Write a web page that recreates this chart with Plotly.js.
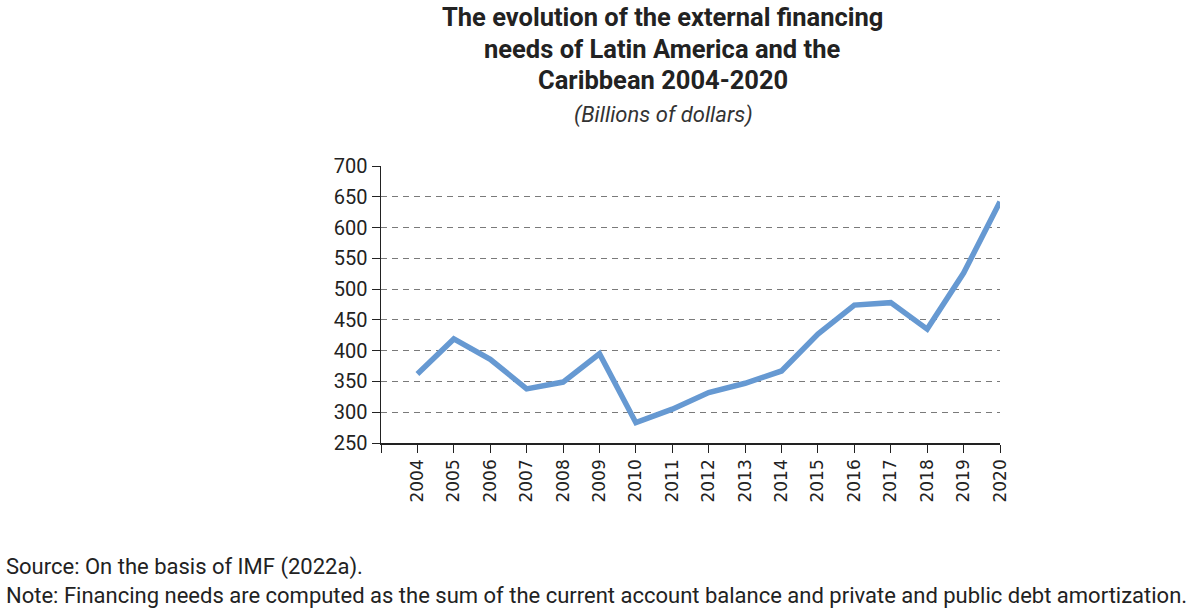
<!DOCTYPE html>
<html>
<head>
<meta charset="utf-8">
<script src="https://cdn.plot.ly/plotly-3.0.1.min.js"></script>
<style>
  html, body { margin: 0; padding: 0; background: #fff; }
  #chart { width: 1200px; height: 610px; }
</style>
</head>
<body>
<div id="chart"></div>
<script>
// External financing needs, Latin America and the Caribbean (billions of dollars)
const years = [2004, 2005, 2006, 2007, 2008, 2009, 2010, 2011, 2012, 2013, 2014, 2015, 2016, 2017, 2018, 2019, 2020];
const financingNeeds = [362, 419, 386, 338, 349, 395, 283, 305, 332, 347, 367, 427, 474, 478, 435, 526, 642];
const yTicks = [250, 300, 350, 400, 450, 500, 550, 600, 650, 700];

const titleLines = [
  "The evolution of the external financing",
  "needs of Latin America and the",
  "Caribbean 2004-2020"
];
const subtitle = "(Billions of dollars)";
const sourceText = "Source: On the basis of IMF (2022a).";
const noteText = "Note: Financing needs are computed as the sum of the current account balance and private and public debt amortization.";

const textFont = "Roboto, sans-serif";

// plot area in pixels
const M = { l: 381, r: 200, t: 166, b: 167 };
const W = 1200, H = 610;
const plotW = W - M.l - M.r, plotH = H - M.t - M.b;
const px = x => (x - M.l) / plotW;
const py = y => (H - M.b - y) / plotH;

const trace = {
  x: years,
  y: financingNeeds,
  type: "scatter",
  mode: "lines",
  line: { color: "#6699d2", width: 5.5, shape: "linear" },
  hoverinfo: "x+y"
};

const xTickVals = [years[0] - 1].concat(years);
const xTickText = [""].concat(years.map(String));

function label(text, x, y, anchor, size, color) {
  return {
    text: text, xref: "paper", yref: "paper",
    x: px(x), y: py(y),
    xanchor: anchor, yanchor: "middle",
    showarrow: false,
    font: { family: textFont, size: size, color: color }
  };
}

const layout = {
  width: W,
  height: H,
  paper_bgcolor: "#ffffff",
  plot_bgcolor: "#ffffff",
  showlegend: false,
  margin: M,
  xaxis: {
    range: [years[0] - 1, years[years.length - 1]],
    tickmode: "array",
    tickvals: xTickVals,
    ticktext: xTickText,
    tickangle: -90,
    ticks: "outside",
    ticklen: 8,
    tickcolor: "#222",
    showline: true,
    linecolor: "#222",
    linewidth: 1.5,
    showgrid: false,
    zeroline: false,
    tickfont: { family: "DejaVu Sans, sans-serif", size: 17, color: "#222" }
  },
  yaxis: {
    range: [250, 700],
    tickmode: "array",
    tickvals: yTicks,
    ticks: "outside",
    ticklen: 8,
    tickcolor: "#222",
    showline: true,
    linecolor: "#222",
    linewidth: 1.5,
    showgrid: true,
    gridcolor: "#7a7a7a",
    gridwidth: 1,
    griddash: "6px,5px",
    zeroline: false,
    tickfont: { family: textFont, size: 20, color: "#222" }
  },
  annotations: [
    label("<b>" + titleLines[0] + "</b>", 662, 17, "center", 25.5, "#222"),
    label("<b>" + titleLines[1] + "</b>", 662, 49, "center", 25.5, "#222"),
    label("<b>" + titleLines[2] + "</b>", 663, 80, "center", 25.5, "#222"),
    label("<i>" + subtitle + "</i>", 663, 115, "center", 22, "#333"),
    label(sourceText, 4, 567, "left", 22, "#222"),
    label(noteText, 4, 595, "left", 22, "#222")
  ]
};

Plotly.newPlot("chart", [trace], layout, { displayModeBar: false, staticPlot: true });
</script>
</body>
</html>
